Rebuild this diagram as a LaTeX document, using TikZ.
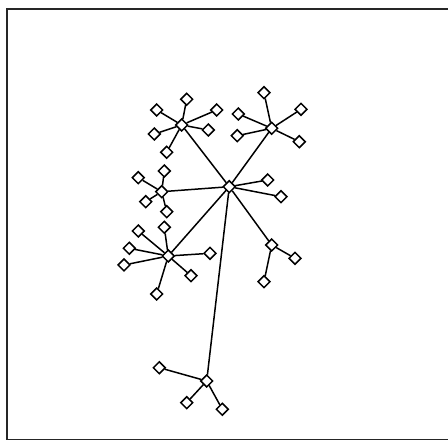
\documentclass[tikz,border=0pt]{standalone}
\usetikzlibrary{shapes.geometric}

\begin{document}
\begin{tikzpicture}[
  x=1pt, y=-1pt,
  vert/.style={draw, diamond, fill=white, inner sep=0pt, minimum width=12.5pt, minimum height=12.5pt, line width=1.5pt},
  edge/.style={line width=1.5pt}
]
\useasboundingbox (0,0) rectangle (448,441);
\draw[line width=1.8pt, black!85] (448,9) -- (7,9) -- (7,439.5) -- (448,439.5);

% centre and hubs
\node[vert] (root) at (229.3,186.7) {};
\node[vert] (hubA) at (181.7,125) {};
\node[vert] (hubB) at (271.7,128.3) {};
\node[vert] (hubD) at (161.7,191.7) {};
\node[vert] (hubE) at (168.3,256) {};
\node[vert] (hubF) at (271.7,245) {};
\node[vert] (hubG) at (206.7,381) {};

% leaves
\node[vert] (r1) at (267.7,180) {};
\node[vert] (r2) at (281,196.7) {};

\node[vert] (a1) at (186.7,99.3) {};
\node[vert] (a2) at (156.7,110) {};
\node[vert] (a3) at (216.7,110) {};
\node[vert] (a4) at (154.3,134) {};
\node[vert] (a5) at (208.3,130) {};
\node[vert] (a6) at (166.7,152.3) {};

\node[vert] (b1) at (264,92.7) {};
\node[vert] (b2) at (238.3,114) {};
\node[vert] (b3) at (301,109.3) {};
\node[vert] (b4) at (237.3,135.7) {};
\node[vert] (b5) at (299.3,141.7) {};

\node[vert] (d1) at (138.3,177.7) {};
\node[vert] (d2) at (164.3,171) {};
\node[vert] (d3) at (145.7,201.7) {};
\node[vert] (d4) at (166.7,211.7) {};

\node[vert] (e1) at (138.3,231) {};
\node[vert] (e2) at (164.3,227.3) {};
\node[vert] (e3) at (129.3,248.3) {};
\node[vert] (e4) at (124,265) {};
\node[vert] (e5) at (210,253.3) {};
\node[vert] (e6) at (191,275.7) {};
\node[vert] (e7) at (156.7,294) {};

\node[vert] (f1) at (295,258.3) {};
\node[vert] (f2) at (264,281.7) {};

\node[vert] (g1) at (159.3,367.7) {};
\node[vert] (g2) at (186.7,402.7) {};
\node[vert] (g3) at (222.3,409.3) {};

% edges
\foreach \t in {hubA,hubB,hubD,hubE,hubF,hubG,r1,r2}
  \draw[edge] (root) -- (\t);
\foreach \t in {a1,a2,a3,a4,a5,a6}
  \draw[edge] (hubA) -- (\t);
\foreach \t in {b1,b2,b3,b4,b5}
  \draw[edge] (hubB) -- (\t);
\foreach \t in {d1,d2,d3,d4}
  \draw[edge] (hubD) -- (\t);
\foreach \t in {e1,e2,e3,e4,e5,e6,e7}
  \draw[edge] (hubE) -- (\t);
\foreach \t in {f1,f2}
  \draw[edge] (hubF) -- (\t);
\foreach \t in {g1,g2,g3}
  \draw[edge] (hubG) -- (\t);

\end{tikzpicture}
\end{document}
